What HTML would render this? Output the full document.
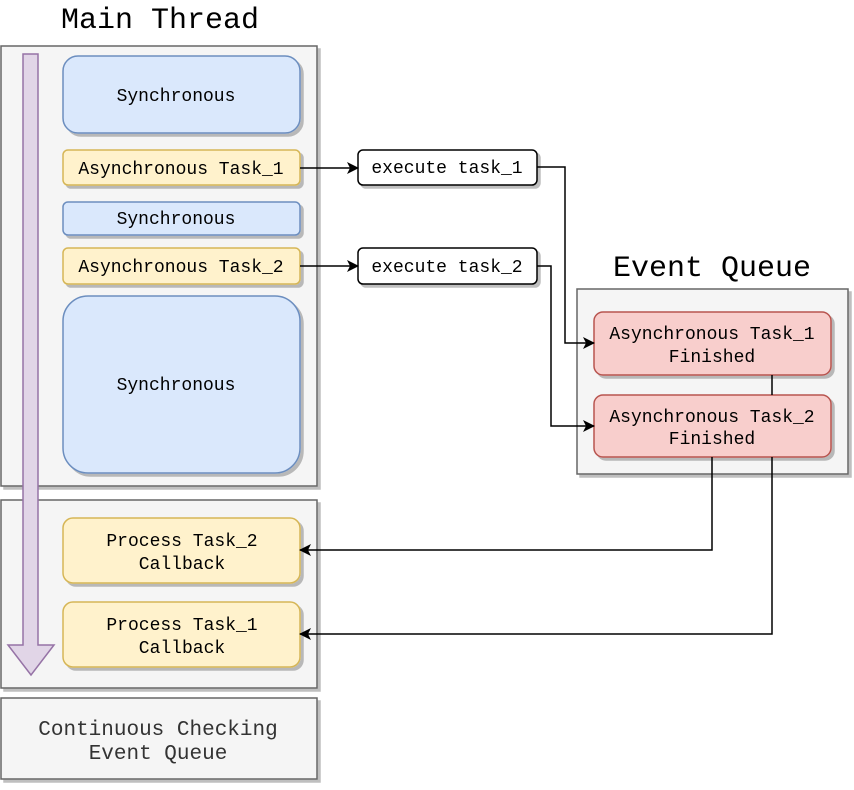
<!DOCTYPE html>
<html><head><meta charset="utf-8"><style>
html,body{margin:0;padding:0;background:#fff}
svg text{font-family:"Liberation Mono",monospace;}
</style></head><body>
<svg width="854" height="785" viewBox="0 0 854 785" xmlns="http://www.w3.org/2000/svg">
<defs>
<filter id="sh" x="-10%" y="-10%" width="130%" height="130%">
<feOffset dx="3" dy="3" in="SourceAlpha" result="o"/>
<feColorMatrix in="o" type="matrix" values="0 0 0 0 0  0 0 0 0 0  0 0 0 0 0  0 0 0 0.25 0" result="c"/>
<feMerge><feMergeNode in="c"/><feMergeNode in="SourceGraphic"/></feMerge>
</filter>
<marker id="ar" markerWidth="12" markerHeight="12" refX="11" refY="6" orient="auto" markerUnits="userSpaceOnUse">
<path d="M0,0 L12,6 L0,12 L3,6 Z" fill="#000"/>
</marker>
</defs>
<text x="160" y="28" font-size="30" text-anchor="middle">Main Thread</text>
<text x="712" y="276" font-size="30" text-anchor="middle">Event Queue</text>

<g filter="url(#sh)">
<rect x="1" y="46" width="316" height="440" fill="#f5f5f5" stroke="#666" stroke-width="1.5"/>
<rect x="1" y="500" width="316" height="188" fill="#f5f5f5" stroke="#666" stroke-width="1.5"/>
<rect x="1" y="698" width="316" height="81" fill="#f5f5f5" stroke="#666" stroke-width="1.5"/>
<rect x="577" y="289" width="271" height="185" fill="#f5f5f5" stroke="#666" stroke-width="1.5"/>
</g>

<g filter="url(#sh)" stroke-width="1.5">
<rect x="63" y="56" width="237" height="77" rx="15" fill="#dae8fc" stroke="#6c8ebf"/>
<rect x="63" y="150" width="237" height="35" rx="5" fill="#fff2cc" stroke="#d6b656"/>
<rect x="63" y="202" width="237" height="33" rx="5" fill="#dae8fc" stroke="#6c8ebf"/>
<rect x="63" y="248" width="237" height="36" rx="5" fill="#fff2cc" stroke="#d6b656"/>
<rect x="63" y="296" width="237" height="177" rx="25" fill="#dae8fc" stroke="#6c8ebf"/>
<rect x="63" y="518" width="237" height="65" rx="10" fill="#fff2cc" stroke="#d6b656"/>
<rect x="63" y="602" width="237" height="65" rx="10" fill="#fff2cc" stroke="#d6b656"/>
<rect x="358" y="150" width="179" height="35" rx="5" fill="#fff" stroke="#000"/>
<rect x="358" y="248" width="179" height="36" rx="5" fill="#fff" stroke="#000"/>
<rect x="594" y="312" width="237" height="63" rx="9" fill="#f8cecc" stroke="#b85450"/>
<rect x="594" y="395" width="237" height="62" rx="9" fill="#f8cecc" stroke="#b85450"/>
</g>

<path d="M23,54 H38 V645 H54 L31,675 L8,645 H23 Z" fill="#e1d5e7" stroke="#9673a6" stroke-width="1.5"/>

<g fill="none" stroke="#000" stroke-width="1.5">
<path d="M300,168 H358" marker-end="url(#ar)"/>
<path d="M300,266 H358" marker-end="url(#ar)"/>
<path d="M537,167 H565 V343 H594" marker-end="url(#ar)"/>
<path d="M537,266 H551 V426 H594" marker-end="url(#ar)"/>
<path d="M772,375 V395"/>
<path d="M712,457 V550 H300" marker-end="url(#ar)"/>
<path d="M772,457 V634 H300" marker-end="url(#ar)"/>
</g>

<g font-size="18" text-anchor="middle" fill="#000">
<text x="176" y="101">Synchronous</text>
<text x="181" y="174">Asynchronous Task_1</text>
<text x="176" y="224">Synchronous</text>
<text x="181" y="272">Asynchronous Task_2</text>
<text x="176" y="390">Synchronous</text>
<text x="182" y="546">Process Task_2</text>
<text x="182" y="569">Callback</text>
<text x="182" y="630">Process Task_1</text>
<text x="182" y="653">Callback</text>
<text x="447" y="173">execute task_1</text>
<text x="447" y="272">execute task_2</text>
<text x="712" y="339">Asynchronous Task_1</text>
<text x="712" y="362">Finished</text>
<text x="712" y="422">Asynchronous Task_2</text>
<text x="712" y="444">Finished</text>
<text x="158" y="735" fill="#333" font-size="21">Continuous Checking</text>
<text x="158" y="759" fill="#333" font-size="21">Event Queue</text>
</g>
</svg>
</body></html>
